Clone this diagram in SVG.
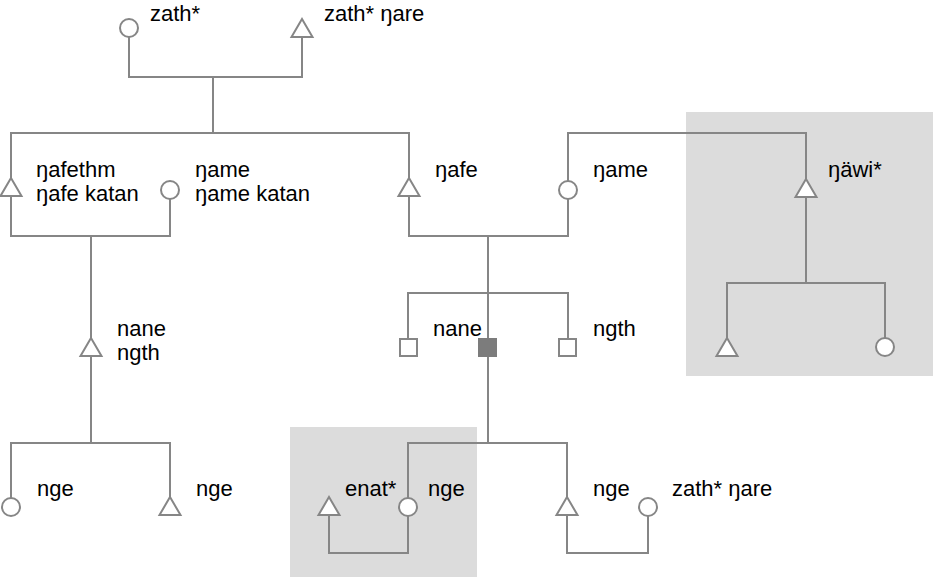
<svg xmlns="http://www.w3.org/2000/svg" width="933" height="577" viewBox="0 0 933 577">
<style>
.bg{fill:#dcdcdc;stroke:none}
.ln{fill:none;stroke:#868686;stroke-width:2}
.sh{fill:#fff;stroke:#868686;stroke-width:2}
.fs{fill:#7c7c7c;stroke:#7c7c7c;stroke-width:2}
text{font-family:"Liberation Sans",Arial,sans-serif;font-size:22px;fill:#000}
</style>
<defs>
<polygon id="tri" points="0,-9 10.5,9 -10.5,9"/>
</defs>
<rect class="bg" x="686" y="112" width="247" height="264"/>
<rect class="bg" x="290" y="427" width="187" height="150"/>
<g id="connectors" class="ln">
<path d="M129,37 V77 H302 V37"/>
<path d="M213,77 V133"/>
<path d="M11,178 V133 H409 V178"/>
<path d="M11,196 V236 H170 V199"/>
<path d="M91,236 V338"/>
<path d="M91,356 V443"/>
<path d="M11,498 V443 H170 V497"/>
<path d="M409,196 V236 H568 V199"/>
<path d="M568,181 V133 H806 V179"/>
<path d="M806,197 V283"/>
<path d="M727,338 V283 H885 V338"/>
<path d="M488,236 V339"/>
<path d="M408,339 V293 H568 V339"/>
<path d="M488,357 V443"/>
<path d="M408,498 V443 H567 V497"/>
<path d="M408,516 V553 H329 V515"/>
<path d="M567,515 V553 H648 V516"/>
</g>
<g id="n-zath"><circle class="sh" cx="129" cy="28" r="9"/><text x="150" y="21">zath*</text></g>
<g id="n-zath-nare"><use href="#tri" class="sh" x="302" y="28"/><text x="324" y="21">zath* ŋare</text></g>
<g id="n-nafethm"><use href="#tri" class="sh" x="11" y="187"/><text x="36" y="177">ŋafethm</text><text x="36" y="201">ŋafe katan</text></g>
<g id="n-name-katan"><circle class="sh" cx="170" cy="190" r="9"/><text x="195" y="177">ŋame</text><text x="195" y="201">ŋame katan</text></g>
<g id="n-nane-ngth"><use href="#tri" class="sh" x="91" y="347"/><text x="117" y="336">nane</text><text x="117" y="360">ngth</text></g>
<g id="n-nge-l1"><circle class="sh" cx="11" cy="507" r="9"/><text x="37" y="496">nge</text></g>
<g id="n-nge-l2"><use href="#tri" class="sh" x="170" y="506"/><text x="196" y="496">nge</text></g>
<g id="n-nafe"><use href="#tri" class="sh" x="409" y="187"/><text x="435" y="177">ŋafe</text></g>
<g id="n-name"><circle class="sh" cx="568" cy="190" r="9"/><text x="593" y="177">ŋame</text></g>
<g id="n-nawi"><use href="#tri" class="sh" x="806" y="188"/><text x="828" y="177">ŋäwi*</text></g>
<g id="n-nawi-t"><use href="#tri" class="sh" x="727" y="347"/></g>
<g id="n-nawi-c"><circle class="sh" cx="885" cy="347" r="9"/></g>
<g id="n-sq1"><rect class="sh" x="400" y="339" width="17" height="17"/></g>
<g id="n-nane"><rect class="fs" x="479" y="339" width="17" height="17"/><text x="433" y="336">nane</text></g>
<g id="n-ngth"><rect class="sh" x="559" y="339" width="17" height="17"/><text x="593" y="336">ngth</text></g>
<g id="n-enat"><use href="#tri" class="sh" x="329" y="506"/><text x="345" y="496">enat*</text></g>
<g id="n-nge-m"><circle class="sh" cx="408" cy="507" r="9"/><text x="428" y="496">nge</text></g>
<g id="n-nge-r"><use href="#tri" class="sh" x="567" y="506"/><text x="593" y="496">nge</text></g>
<g id="n-zath-nare-r"><circle class="sh" cx="648" cy="507" r="9"/><text x="672" y="496">zath* ŋare</text></g>
</svg>
